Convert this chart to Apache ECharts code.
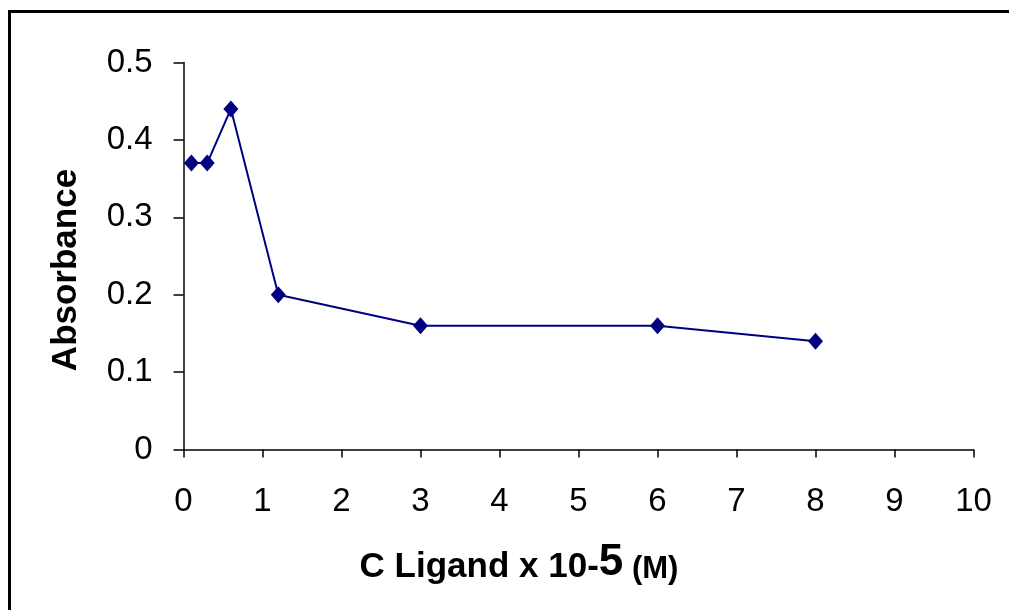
<!DOCTYPE html>
<html>
<head>
<meta charset="utf-8">
<script src="https://cdn.jsdelivr.net/npm/echarts@6/dist/echarts.min.js"></script>
<style>html,body{margin:0;padding:0;background:#fff}#c{width:1009px;height:610px}</style>
</head>
<body>
<div id="c"></div>
<script>
const xValues = [0.1, 0.3, 0.6, 1.2, 3, 6, 8];
const absorbance = [0.37, 0.37, 0.44, 0.20, 0.16, 0.16, 0.14];
const yTitle = 'Absorbance';
const xTitleParts = ['C Ligand x 10-', '5', ' (M)'];

const chart = echarts.init(document.getElementById('c'), null, {renderer: 'canvas'});
const font = 'Liberation Sans, Arial, sans-serif';
chart.setOption({
  animation: false,
  backgroundColor: '#fff',
  grid: {left: 183.5, right: 35.5, top: 62.5, bottom: 160.5},
  xAxis: {
    type: 'value', min: 0, max: 10, interval: 1,
    axisLine: {onZero: false, lineStyle: {color: '#000', width: 1.5}},
    axisTick: {show: true, inside: false, length: 8, lineStyle: {color: '#000', width: 1.5}},
    axisLabel: {color: '#000', fontSize: 33, fontFamily: font, margin: 36},
    splitLine: {show: false}
  },
  yAxis: {
    type: 'value', min: 0, max: 0.5, interval: 0.1,
    axisLine: {show: true, lineStyle: {color: '#000', width: 1.5}},
    axisTick: {show: true, inside: false, length: 10, lineStyle: {color: '#000', width: 1.5}},
    axisLabel: {color: '#000', fontSize: 33, fontFamily: font, margin: 31},
    splitLine: {show: false}
  },
  series: [{
    type: 'line',
    data: xValues.map((x, i) => [x, absorbance[i]]),
    symbol: 'diamond', symbolSize: [15, 17],
    itemStyle: {color: '#000080'},
    lineStyle: {color: '#000080', width: 2}
  }],
  graphic: [
    {type: 'rect', shape: {x: 9.5, y: 11.5, width: 1200, height: 800}, style: {fill: 'none', stroke: '#000', lineWidth: 3}, silent: true},
    {type: 'text', x: 66, y: 270, rotation: Math.PI / 2,
      style: {text: yTitle, font: 'bold 35px ' + font, fill: '#000', textAlign: 'center', textVerticalAlign: 'middle'}},
    {type: 'text', x: 519, y: 585,
      style: {
        text: '{a|' + xTitleParts[0] + '}{b|' + xTitleParts[1] + '}{c|' + xTitleParts[2] + '}',
        textAlign: 'center', textVerticalAlign: 'bottom', fill: '#000',
        rich: {
          a: {font: 'bold 35px ' + font, fill: '#000', verticalAlign: 'bottom'},
          b: {font: 'bold 44px ' + font, fill: '#000', verticalAlign: 'bottom'},
          c: {font: 'bold 31px ' + font, fill: '#000', verticalAlign: 'bottom'}
        }
      }}
  ]
});
</script>
</body>
</html>
